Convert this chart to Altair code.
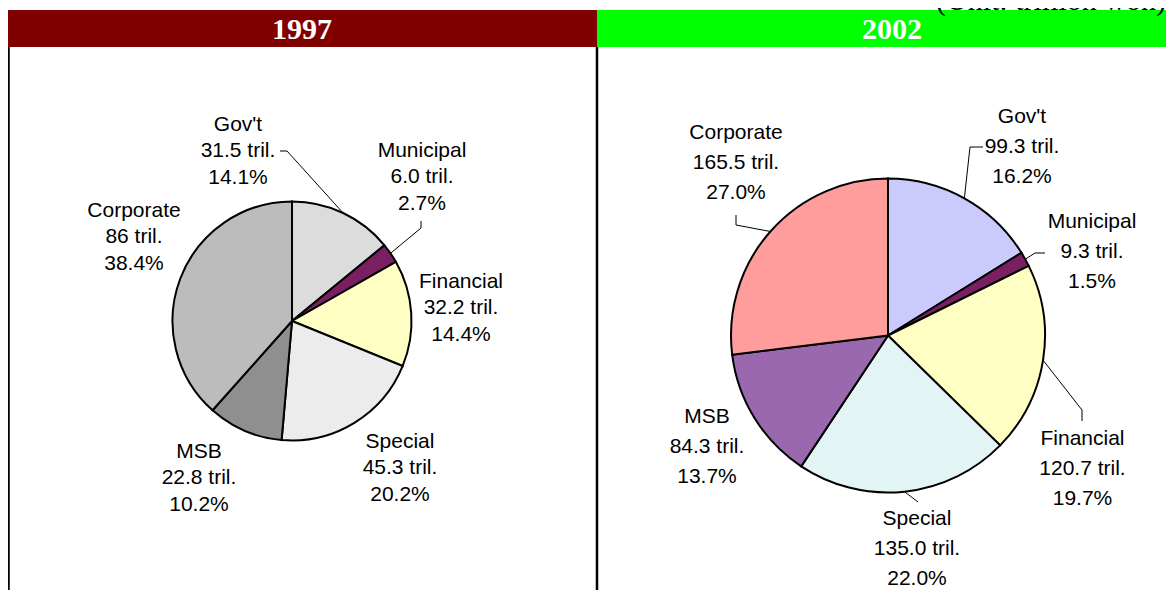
import math
import altair as alt
import pandas as pd

# ---------------- data ----------------
categories = ["Gov't", "Municipal", "Financial", "Special", "MSB", "Corporate"]
years = ["1997", "2002"]

values_1997 = [31.5, 6.0, 32.2, 45.3, 22.8, 86.0]
tril_text_1997 = ["31.5", "6.0", "32.2", "45.3", "22.8", "86"]
pct_1997 = [14.1, 2.7, 14.4, 20.2, 10.2, 38.4]

values_2002 = [99.3, 9.3, 120.7, 135.0, 84.3, 165.5]
tril_text_2002 = ["99.3", "9.3", "120.7", "135.0", "84.3", "165.5"]
pct_2002 = [16.2, 1.5, 19.7, 22.0, 13.7, 27.0]

unit_text = "(Unit: trillion won)"

# ---------------- styles / layout ----------------
fills_1997 = ["#dcdcdc", "#7a2062", "#ffffc4", "#ececec", "#8f8f8f", "#bcbcbc"]
fills_2002 = ["#cacafd", "#7a2062", "#ffffc4", "#e2f4f4", "#9a68ae", "#ff9c9c"]
header_colors = ["#800000", "#00ff00"]

W, H = 1158, 582
M = 8  # page margin: chart px = page px - M

pie_layout = {
    "1997": dict(cx=292 - M, cy=321 - M, r=119.5, lh=26.5),
    "2002": dict(cx=888 - M, cy=335.5 - M, r=157.0, lh=30.0),
}
# middle-line centre of each label block (page px)
label_pos = {
    "1997": [(238, 151), (422, 177), (461, 308), (400, 468), (199, 478), (134, 237)],
    "2002": [(1022, 146.5), (1092, 252), (1082.5, 469), (917, 549), (707, 447), (736, 163)],
}
# label-side points of leader lines (page px); the other end is the slice edge
leader_pts = {
    "1997": [[(280, 151), (287, 151)], [(421, 221), (421, 228)], None, None, None, None],
    "2002": [[(983, 147), (970, 147)], [(1045, 253), (1035, 253)],
             [(1082, 421), (1082, 410)], [(918, 502)], None, [(736, 215), (736, 225)]],
}

values = {"1997": values_1997, "2002": values_2002}
tril_text = {"1997": tril_text_1997, "2002": tril_text_2002}
pcts = {"1997": pct_1997, "2002": pct_2002}
fills = {"1997": fills_1997, "2002": fills_2002}

xs = alt.Scale(domain=[0, W], nice=False, zero=False)
ys = alt.Scale(domain=[0, H], nice=False, zero=False, reverse=True)


def edge_points(vals, cx, cy, r):
    tot = sum(vals)
    cum = 0.0
    out = []
    for v in vals:
        a = (cum + v / 2.0) / tot * 2 * math.pi
        cum += v
        out.append((cx + r * math.sin(a), cy - r * math.cos(a)))
    return out


layers = []

# header bars + border lines
hdr = pd.DataFrame({
    "x": [0, 589], "x2": [589, W], "y": [2, 2], "y2": [39, 39],
    "color": header_colors, "year": years, "tx": [294, 884], "ty": [31, 31],
})
layers.append(alt.Chart(hdr).mark_rect().encode(
    x=alt.X("x:Q", scale=xs, axis=None), x2="x2:Q",
    y=alt.Y("y:Q", scale=ys, axis=None), y2="y2:Q",
    color=alt.Color("color:N", scale=None)))
layers.append(alt.Chart(hdr).mark_text(
    font="Liberation Serif", fontSize=30, fontWeight="bold", color="white",
    baseline="alphabetic", align="center").encode(
    x=alt.X("tx:Q", scale=xs, axis=None), y=alt.Y("ty:Q", scale=ys, axis=None),
    text="year:N"))

borders = pd.DataFrame({"x": [0.5, 589], "y": [39, 39], "y2": [H, H]})
layers.append(alt.Chart(borders).mark_rule(color="black", strokeWidth=2.5).encode(
    x=alt.X("x:Q", scale=xs, axis=None),
    y=alt.Y("y:Q", scale=ys, axis=None), y2="y2:Q"))

unit_df = pd.DataFrame({"x": [W], "y": [2], "t": [unit_text]})
layers.append(alt.Chart(unit_df).mark_text(
    font="Liberation Serif", fontSize=30, color="black", align="right",
    baseline="alphabetic").encode(
    x=alt.X("x:Q", scale=xs, axis=None), y=alt.Y("y:Q", scale=ys, axis=None),
    text="t:N"))

label_rows = []
leader_rows = []
for yr in years:
    lay = pie_layout[yr]
    vals = values[yr]
    sl = pd.DataFrame({"cat": categories, "value": vals,
                       "idx": list(range(len(categories))), "fill": fills[yr]})
    layers.append(alt.Chart(sl).mark_arc(
        outerRadius=lay["r"], stroke="black", strokeWidth=2).encode(
        theta=alt.Theta("value:Q", stack=True),
        order=alt.Order("idx:Q"),
        color=alt.Color("fill:N", scale=None),
        x=alt.value(lay["cx"]), y=alt.value(lay["cy"])))

    edges = edge_points(vals, lay["cx"], lay["cy"], lay["r"])
    for i, cat in enumerate(categories):
        px, py = label_pos[yr][i]
        lines = [cat, f"{tril_text[yr][i]} tril.", f"{pcts[yr][i]:.1f}%"]
        for k, t in enumerate(lines):
            label_rows.append({"x": px - M, "y": py - M + (k - 1) * lay["lh"], "t": t})
        pts = leader_pts[yr][i]
        if pts:
            full = [(a - M, b - M) for a, b in pts] + [edges[i]]
            for j, (a, b) in enumerate(full):
                leader_rows.append({"id": f"{yr}-{i}", "pt": j, "x": a, "y": b})

lead_df = pd.DataFrame(leader_rows)
layers.append(alt.Chart(lead_df).mark_line(color="black", strokeWidth=1).encode(
    x=alt.X("x:Q", scale=xs, axis=None), y=alt.Y("y:Q", scale=ys, axis=None),
    detail="id:N", order="pt:Q"))

lab_df = pd.DataFrame(label_rows)
layers.append(alt.Chart(lab_df).mark_text(
    font="Liberation Sans", fontSize=21, color="black", align="center",
    baseline="middle").encode(
    x=alt.X("x:Q", scale=xs, axis=None), y=alt.Y("y:Q", scale=ys, axis=None),
    text="t:N"))

chart = alt.layer(*layers).resolve_scale(theta="independent").properties(
    width=W, height=H, padding=0, autosize=alt.AutoSizeParams(type="none"),
    background="white",
).configure_view(stroke=None)

chart.save("out.html", embed_options={"renderer": "svg", "actions": False})
